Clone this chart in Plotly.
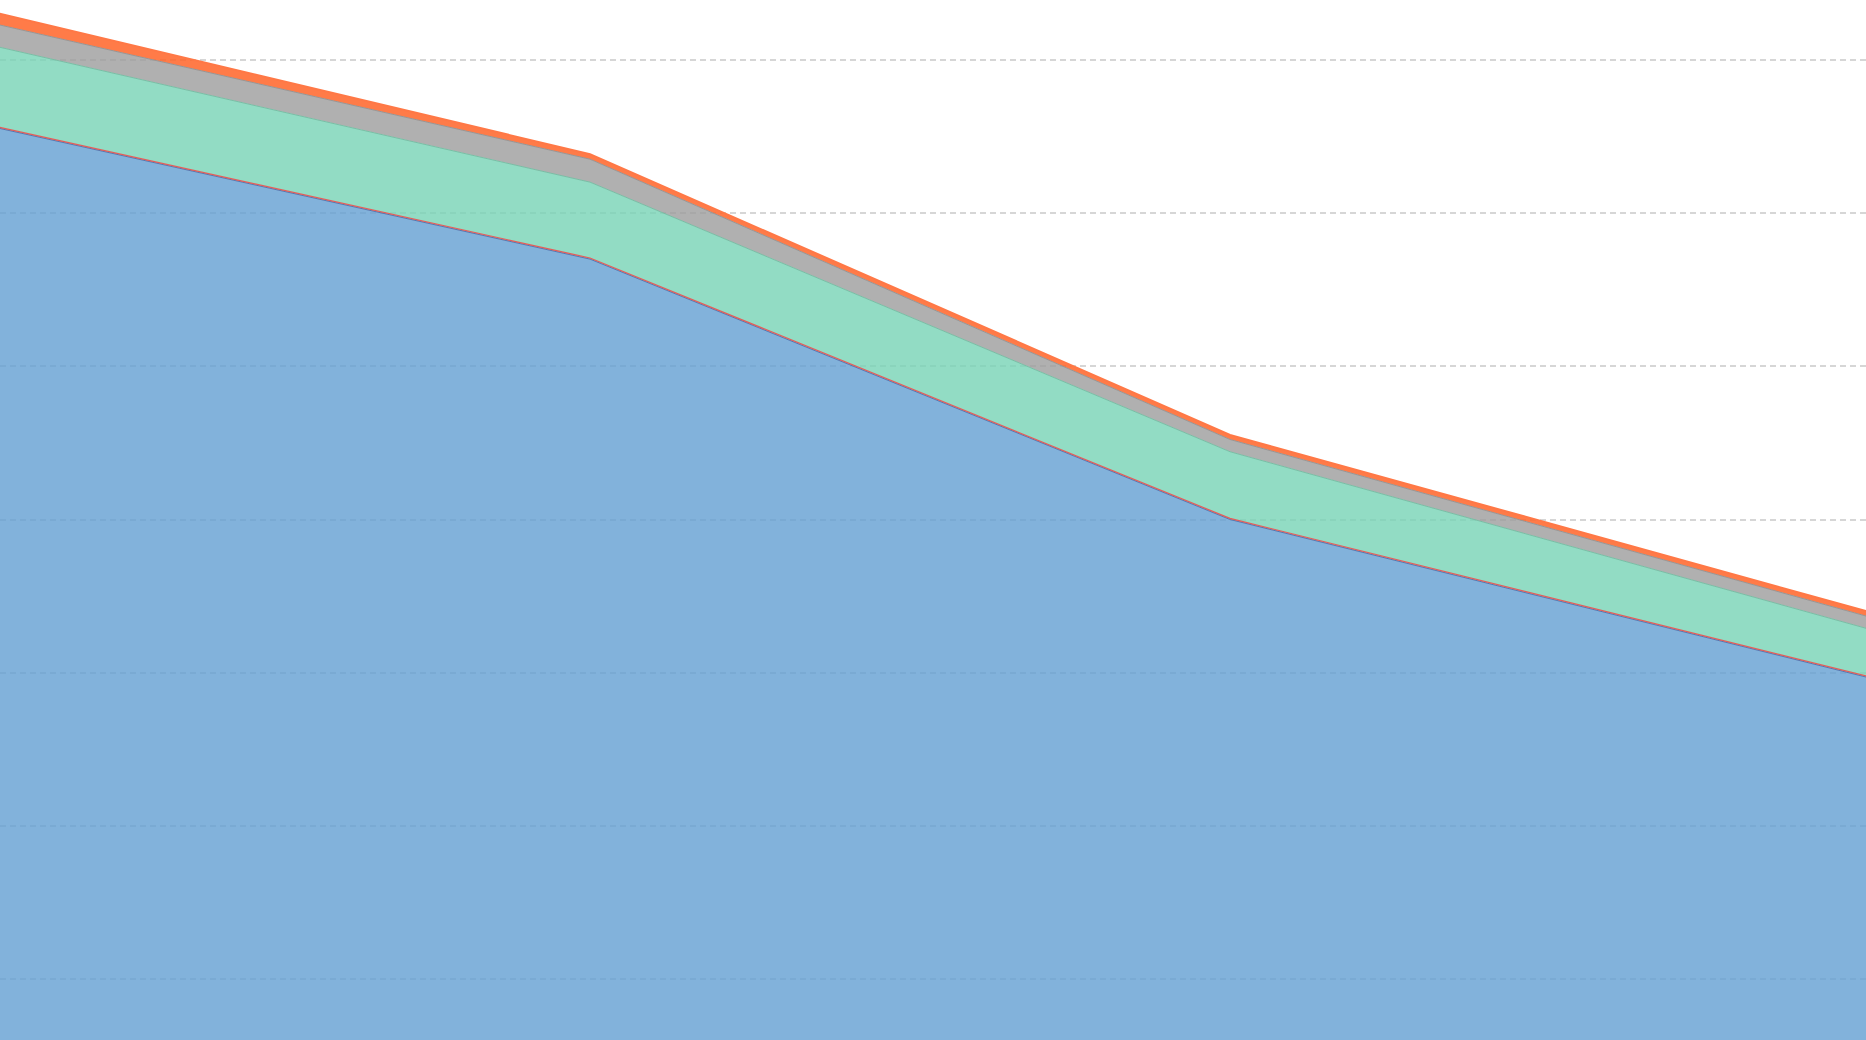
import plotly.graph_objects as go

years = [2000, 2010, 2020, 2030]
blue_vals = [132.5, 114.0, 80.0, 59.3]
red_vals = [0.15, 0.15, 0.15, 0.15]
teal_vals = [10.5, 9.9, 8.7, 6.2]
gray_vals = [2.9, 3.0, 1.6, 1.6]
orange_vals = [1.55, 0.65, 0.6, 0.65]

series = [
    ("Blue", blue_vals, "rgba(99,159,210,0.8)", "rgb(80,120,180)", 1),
    ("Red", red_vals, "rgba(220,90,90,0.8)", "rgb(225,95,90)", 1.2),
    ("Teal", teal_vals, "rgba(119,211,181,0.8)", "rgb(120,190,165)", 1),
    ("Gray", gray_vals, "rgba(156,156,156,0.8)", "rgb(150,150,150)", 1),
    ("Orange", orange_vals, "rgba(255,100,40,0.85)", "rgb(255,120,70)", 2),
]

fig = go.Figure()
for name, vals, fc, lc, lw in series:
    fig.add_trace(go.Scatter(
        x=years, y=vals, name=name, mode="lines",
        stackgroup="one", fillcolor=fc,
        line=dict(color=lc, width=lw),
    ))

fig.update_layout(
    width=1866, height=1040,
    margin=dict(l=0, r=0, t=0, b=0),
    paper_bgcolor="white", plot_bgcolor="white",
    showlegend=False,
    xaxis=dict(range=[2000.781, 2029.937], showgrid=False, zeroline=False,
               showticklabels=False, showline=False, ticks=""),
    yaxis=dict(range=[12.034, 147.835], tick0=0, dtick=20, showgrid=True,
               gridcolor="#d6d6d6", gridwidth=2, griddash="6px,4px",
               zeroline=False, showticklabels=False, showline=False, ticks=""),
)

fig.write_html("out.html", config={"displayModeBar": False},
               post_script="document.body.style.margin='0';document.body.style.overflow='hidden';")
